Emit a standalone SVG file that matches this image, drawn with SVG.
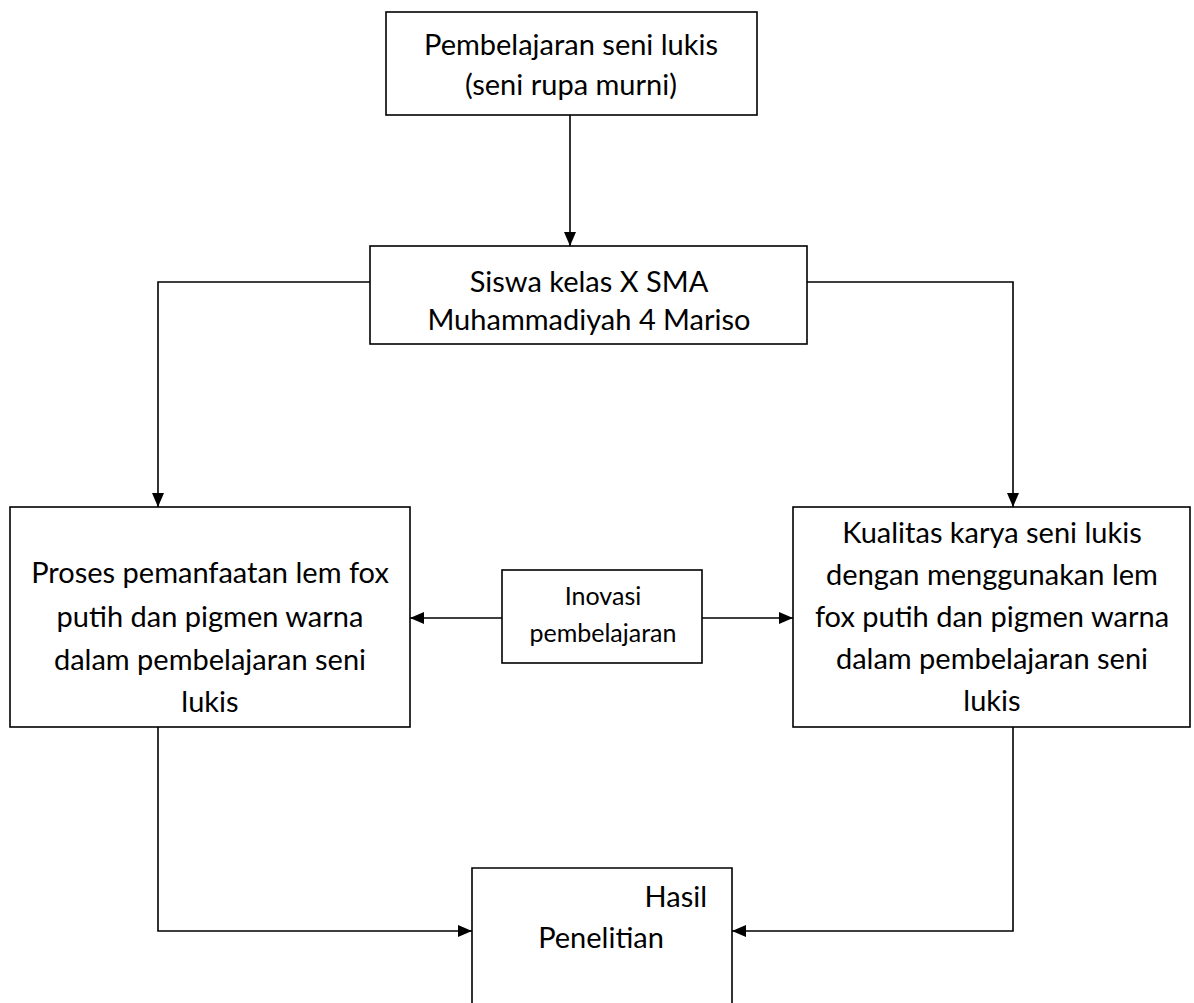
<svg xmlns="http://www.w3.org/2000/svg" width="1194" height="1003" viewBox="0 0 1194 1003">
<style>
.box{fill:#fff;stroke:#000;stroke-width:1.6}
.t{font-family:Lato,"Open Sans","Liberation Sans",sans-serif;font-size:29px;fill:#000;text-anchor:middle}
.s{font-size:25px}
.c{fill:none;stroke:#000;stroke-width:1.6}
</style>
<defs>
<marker id="ah" markerUnits="userSpaceOnUse" markerWidth="14" markerHeight="14" viewBox="0 0 14 14" refX="14" refY="7" orient="auto">
<path d="M0,1 L14,7 L0,13 Z" fill="#000"/>
</marker>
</defs>
<rect width="1194" height="1003" fill="#fff"/>
<g id="connectors">
<path class="c" d="M570,115 V246" marker-end="url(#ah)"/>
<path class="c" d="M370,282 H158 V507" marker-end="url(#ah)"/>
<path class="c" d="M807,282 H1013 V507" marker-end="url(#ah)"/>
<path class="c" d="M502,618 H410" marker-end="url(#ah)"/>
<path class="c" d="M702,618 H793" marker-end="url(#ah)"/>
<path class="c" d="M158,727 V931 H472" marker-end="url(#ah)"/>
<path class="c" d="M1013,727 V931 H732" marker-end="url(#ah)"/>
</g>
<g id="node-top">
<rect class="box" x="386" y="12" width="371" height="103"/>
<text class="t" x="571" y="55">Pembelajaran seni lukis</text>
<text class="t" x="571" y="95">(seni rupa murni)</text>
</g>
<g id="node-siswa">
<rect class="box" x="370" y="246" width="437" height="98"/>
<text class="t" x="589" y="292">Siswa kelas X SMA</text>
<text class="t" x="589" y="330">Muhammadiyah 4 Mariso</text>
</g>
<g id="node-proses">
<rect class="box" x="10" y="507" width="400" height="220"/>
<text class="t" x="210" y="583">Proses pemanfaatan lem fox</text>
<text class="t" x="210" y="627">putih dan pigmen warna</text>
<text class="t" x="210" y="670">dalam pembelajaran seni</text>
<text class="t" x="210" y="712">lukis</text>
</g>
<g id="node-inovasi">
<rect class="box" x="502" y="570" width="200" height="93"/>
<text class="t s" x="603" y="605">Inovasi</text>
<text class="t s" x="603" y="642">pembelajaran</text>
</g>
<g id="node-kualitas">
<rect class="box" x="793" y="507" width="397" height="220"/>
<text class="t" x="992" y="543">Kualitas karya seni lukis</text>
<text class="t" x="992" y="585">dengan menggunakan lem</text>
<text class="t" x="992" y="627">fox putih dan pigmen warna</text>
<text class="t" x="992" y="669">dalam pembelajaran seni</text>
<text class="t" x="992" y="711">lukis</text>
</g>
<g id="node-hasil">
<path class="box" d="M472,1010 V868 H732 V1010"/>
<text class="t" x="707" y="907" style="text-anchor:end">Hasil</text>
<text class="t" x="601" y="948">Penelitian</text>
</g>
</svg>
